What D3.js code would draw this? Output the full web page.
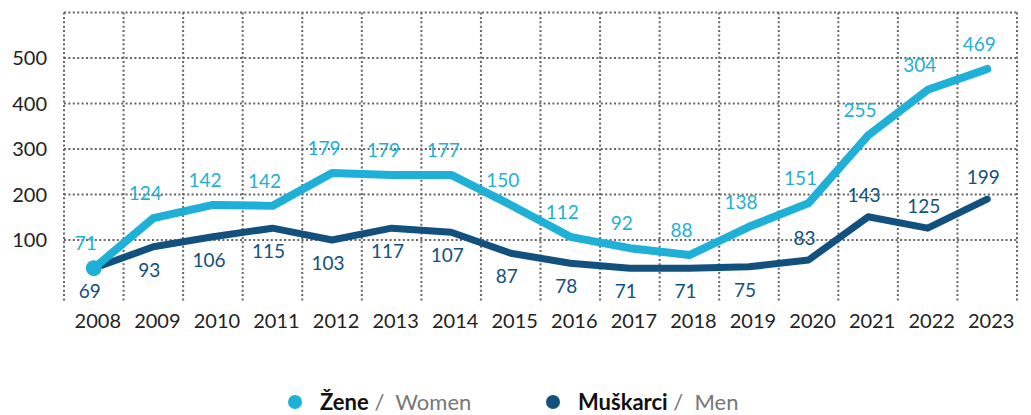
<!DOCTYPE html>
<html>
<head>
<meta charset="utf-8">
<script src="https://cdn.jsdelivr.net/npm/d3@7"></script>
<style>
  body { margin: 0; background: #fff; }
  text { font-family: Lato, "Noto Sans", sans-serif; }
</style>
</head>
<body>
<div id="chart"></div>
<script>
// years on the x axis
var years = [2008, 2009, 2010, 2011, 2012, 2013, 2014, 2015, 2016, 2017, 2018, 2019, 2020, 2021, 2022, 2023];

// plotted line heights
var women = [38, 148, 177, 175, 247, 243, 243, 177, 107, 82, 67, 129, 181, 330, 430, 476];
var men   = [38, 85, 107, 126, 100, 126, 117, 71, 49, 38, 38, 41, 56, 151, 126, 190];

// printed value labels
var womenLabels = [71, 124, 142, 142, 179, 179, 177, 150, 112, 92, 88, 138, 151, 255, 304, 469];
var menLabels   = [69, 93, 106, 115, 103, 117, 107, 87, 78, 71, 71, 75, 83, 143, 125, 199];

var yTicks = [100, 200, 300, 400, 500];

var womenColor = "#1eb0d6", menColor = "#12507e";

var W = 1031, H = 415;

var svg = d3.select("#chart")
  .append("svg")
    .attr("width", W)
    .attr("height", H);

// x scale: one band per year, grid lines on the band edges
var x = d3.scaleBand()
    .domain(years)
    .range([64, 1017])
    .padding(0);

var y = d3.scaleLinear()
    .domain([0, 600])
    .range([285.5, 12.5]);

var cx = function(yr) { return x(yr) + x.bandwidth() / 2; };

// grid
var grid = svg.append("g")
  .attr("stroke", "#666")
  .attr("stroke-width", 2)
  .attr("stroke-dasharray", "2,2.4");

grid.selectAll("line.h")
  .data(yTicks.concat([600]))
  .enter()
  .append("line")
    .attr("x1", 64)
    .attr("x2", 1017)
    .attr("y1", function(d) { return y(d); })
    .attr("y2", function(d) { return y(d); });

var edges = years.map(function(d) { return x(d); }).concat([x.range()[1]]);
grid.selectAll("line.v")
  .data(edges)
  .enter()
  .append("line")
    .attr("x1", function(d) { return d; })
    .attr("x2", function(d) { return d; })
    .attr("y1", y(600))
    .attr("y2", 301);

// y tick labels
svg.append("g")
  .selectAll("text")
  .data(yTicks)
  .enter()
  .append("text")
    .attr("x", 47)
    .attr("y", function(d) { return y(d); })
    .attr("dy", "0.36em")
    .attr("text-anchor", "end")
    .attr("font-size", 20)
    .attr("fill", "#222")
    .text(function(d) { return d; });

// year labels
svg.append("g")
  .selectAll("text")
  .data(years)
  .enter()
  .append("text")
    .attr("x", function(d) { return cx(d) + 4; })
    .attr("y", 328)
    .attr("text-anchor", "middle")
    .attr("font-size", 20)
    .attr("fill", "#222")
    .text(function(d) { return d; });

var line = function(vals) {
  return d3.line()
    .x(function(d, i) { return cx(years[i]); })
    .y(function(d) { return y(d); })(vals);
};

// men line (below)
svg.append("path")
  .attr("d", line(men))
  .attr("fill", "none")
  .attr("stroke", menColor)
  .attr("stroke-width", 7)
  .attr("stroke-linejoin", "round")
  .attr("stroke-linecap", "round");

// women line (on top)
svg.append("path")
  .attr("d", line(women))
  .attr("fill", "none")
  .attr("stroke", womenColor)
  .attr("stroke-width", 8)
  .attr("stroke-linejoin", "round")
  .attr("stroke-linecap", "round");

svg.append("circle")
  .attr("cx", cx(years[0]))
  .attr("cy", y(women[0]))
  .attr("r", 8)
  .attr("fill", womenColor);

// value labels
svg.append("g")
  .selectAll("text")
  .data(womenLabels)
  .enter()
  .append("text")
    .attr("x", function(d, i) { return cx(years[i]) - 8; })
    .attr("y", function(d, i) { return y(women[i]) - 18; })
    .attr("text-anchor", "middle")
    .attr("font-size", 19)
    .attr("fill", womenColor)
    .text(function(d) { return d; });

svg.append("g")
  .selectAll("text")
  .data(menLabels)
  .enter()
  .append("text")
    .attr("x", function(d, i) { return cx(years[i]) - 4; })
    .attr("y", function(d, i) {
      // from 2020 on the labels sit above the line
      return years[i] >= 2020 ? y(men[i]) - 15 : y(men[i]) + 30;
    })
    .attr("text-anchor", "middle")
    .attr("font-size", 19)
    .attr("fill", menColor)
    .text(function(d) { return d; });

// legend
var legend = [
  {name: "Žene", en: "Women", color: womenColor, x: 295},
  {name: "Muškarci", en: "Men", color: menColor, x: 553}
];

var lg = svg.append("g")
  .selectAll("g")
  .data(legend)
  .enter()
  .append("g")
    .attr("transform", function(d) { return "translate(" + d.x + ",402)"; });

lg.append("circle")
  .attr("r", 7)
  .attr("fill", function(d) { return d.color; });

var lt = lg.append("text")
  .attr("x", 25)
  .attr("y", 7.5)
  .attr("font-size", 22);

lt.append("tspan")
  .attr("font-weight", "bold")
  .attr("fill", "#111")
  .text(function(d) { return d.name; });

lt.append("tspan")
  .attr("fill", "#777")
  .text(function(d) { return "\u00a0/\u00a0 " + d.en; });
</script>
</body>
</html>
